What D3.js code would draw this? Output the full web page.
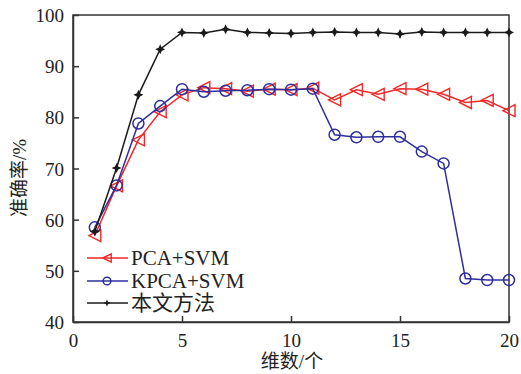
<!DOCTYPE html>
<html><head><meta charset="utf-8">
<script src="https://cdn.jsdelivr.net/npm/d3@7"></script>
<style>body{margin:0;background:#fff}svg{display:block}</style>
</head><body>
<svg id="c" width="521" height="374"></svg>
<script>
const dims = d3.range(1, 21);
const pcaSvm  = [56.9,66.6,75.6,81.1,84.4,85.8,85.6,85.1,85.5,85.4,85.7,83.4,85.4,84.5,85.6,85.5,84.5,82.9,83.3,81.3];
const kpcaSvm = [58.5,66.7,78.8,82.2,85.5,85.0,85.2,85.3,85.5,85.4,85.6,76.6,76.1,76.2,76.2,73.3,71.0,48.5,48.2,48.2];
const ours    = [57.7,70.1,84.4,93.3,96.6,96.5,97.2,96.6,96.5,96.4,96.6,96.7,96.6,96.6,96.3,96.7,96.6,96.6,96.6,96.6];
const xTicks = [0,5,10,15,20];
const yTicks = [40,50,60,70,80,90,100];
const seriesNames = ["PCA+SVM","KPCA+SVM","本文方法"];

const L=73,R=509,T=15,B=322;
const svg=d3.select("#c");
const x=d3.scaleLinear().domain([0,20]).range([L,R]);
const y=d3.scaleLinear().domain([40,100]).range([B,T]);
const latin="'Liberation Serif','Times New Roman',serif";
const cjk="'Liberation Serif','Noto Sans CJK SC',serif";
const axCol="#333";

// frame
svg.append("rect").attr("x",L).attr("y",T).attr("width",R-L).attr("height",B-T)
  .attr("fill","none").attr("stroke",axCol).attr("stroke-width",1.5);

const gx=svg.append("g").attr("transform",`translate(0,${B})`)
  .call(d3.axisBottom(x).tickValues(xTicks).tickSizeInner(-6).tickSizeOuter(0).tickPadding(12));
const gy=svg.append("g").attr("transform",`translate(${L},0)`)
  .call(d3.axisLeft(y).tickValues(yTicks).tickSizeInner(-6).tickSizeOuter(0).tickPadding(9));
[gx,gy].forEach(g=>{
  g.select(".domain").attr("stroke",axCol).attr("stroke-width",1.5);
  g.selectAll(".tick line").attr("stroke",axCol).attr("stroke-width",1.5);
  g.selectAll(".tick text").attr("font-family",latin).attr("font-size",19).attr("fill","#222");
});
gy.selectAll(".tick text").attr("dy","0.35em");

// axis titles
svg.append("text").attr("x",292).attr("y",368).attr("text-anchor","middle")
  .attr("font-family",cjk).attr("font-size",19).attr("fill","#222").text("维数/个");
svg.append("text").attr("transform","translate(26,178) rotate(-90)").attr("text-anchor","middle")
  .attr("font-family",cjk).attr("font-size",19).attr("fill","#222").text("准确率/%");

const line=d3.line().x((d,i)=>x(dims[i])).y(d=>y(d));
const cfg=[
  {data:pcaSvm,color:"#f02828",m:"tri"},
  {data:kpcaSvm,color:"#2e2e9e",m:"circ"},
  {data:ours,color:"#1a1a1a",m:"star"}
];
function marker(g,type,color,s){
  if(type==="tri"){
    g.append("path").attr("d",`M${-6*s},0L${6*s},${-6*s}L${6*s},${6*s}Z`).attr("fill","none").attr("stroke",color).attr("stroke-width",1.4);
  }else if(type==="circ"){
    g.append("circle").attr("r",5.5*s).attr("fill","none").attr("stroke",color).attr("stroke-width",1.5);
  }else{
    const a=5*s,b=1.6*s;
    g.append("path").attr("d",`M0,${-a}L${b},${-b}L${a},0L${b},${b}L0,${a}L${-b},${b}L${-a},0L${-b},${-b}Z`).attr("fill",color);
  }
}
cfg.forEach(c=>{
  svg.append("path").datum(c.data).attr("d",line).attr("fill","none").attr("stroke",c.color).attr("stroke-width",1.5);
  c.data.forEach((v,i)=>{
    const g=svg.append("g").attr("transform",`translate(${x(dims[i])},${y(v)})`);
    marker(g,c.m,c.color,1);
  });
});

// legend
const ly=[258,281,303];
cfg.forEach((c,i)=>{
  svg.append("line").attr("x1",87).attr("x2",128).attr("y1",ly[i]).attr("y2",ly[i]).attr("stroke",c.color).attr("stroke-width",1.5);
  const g=svg.append("g").attr("transform",`translate(107,${ly[i]})`);
  marker(g,c.m,c.color,0.7);
  svg.append("text").attr("x",131).attr("y",ly[i]).attr("dy","0.35em")
    .attr("font-family",i===2?cjk:latin).attr("font-size",21).attr("fill","#222").text(seriesNames[i]);
});
</script>
</body></html>
